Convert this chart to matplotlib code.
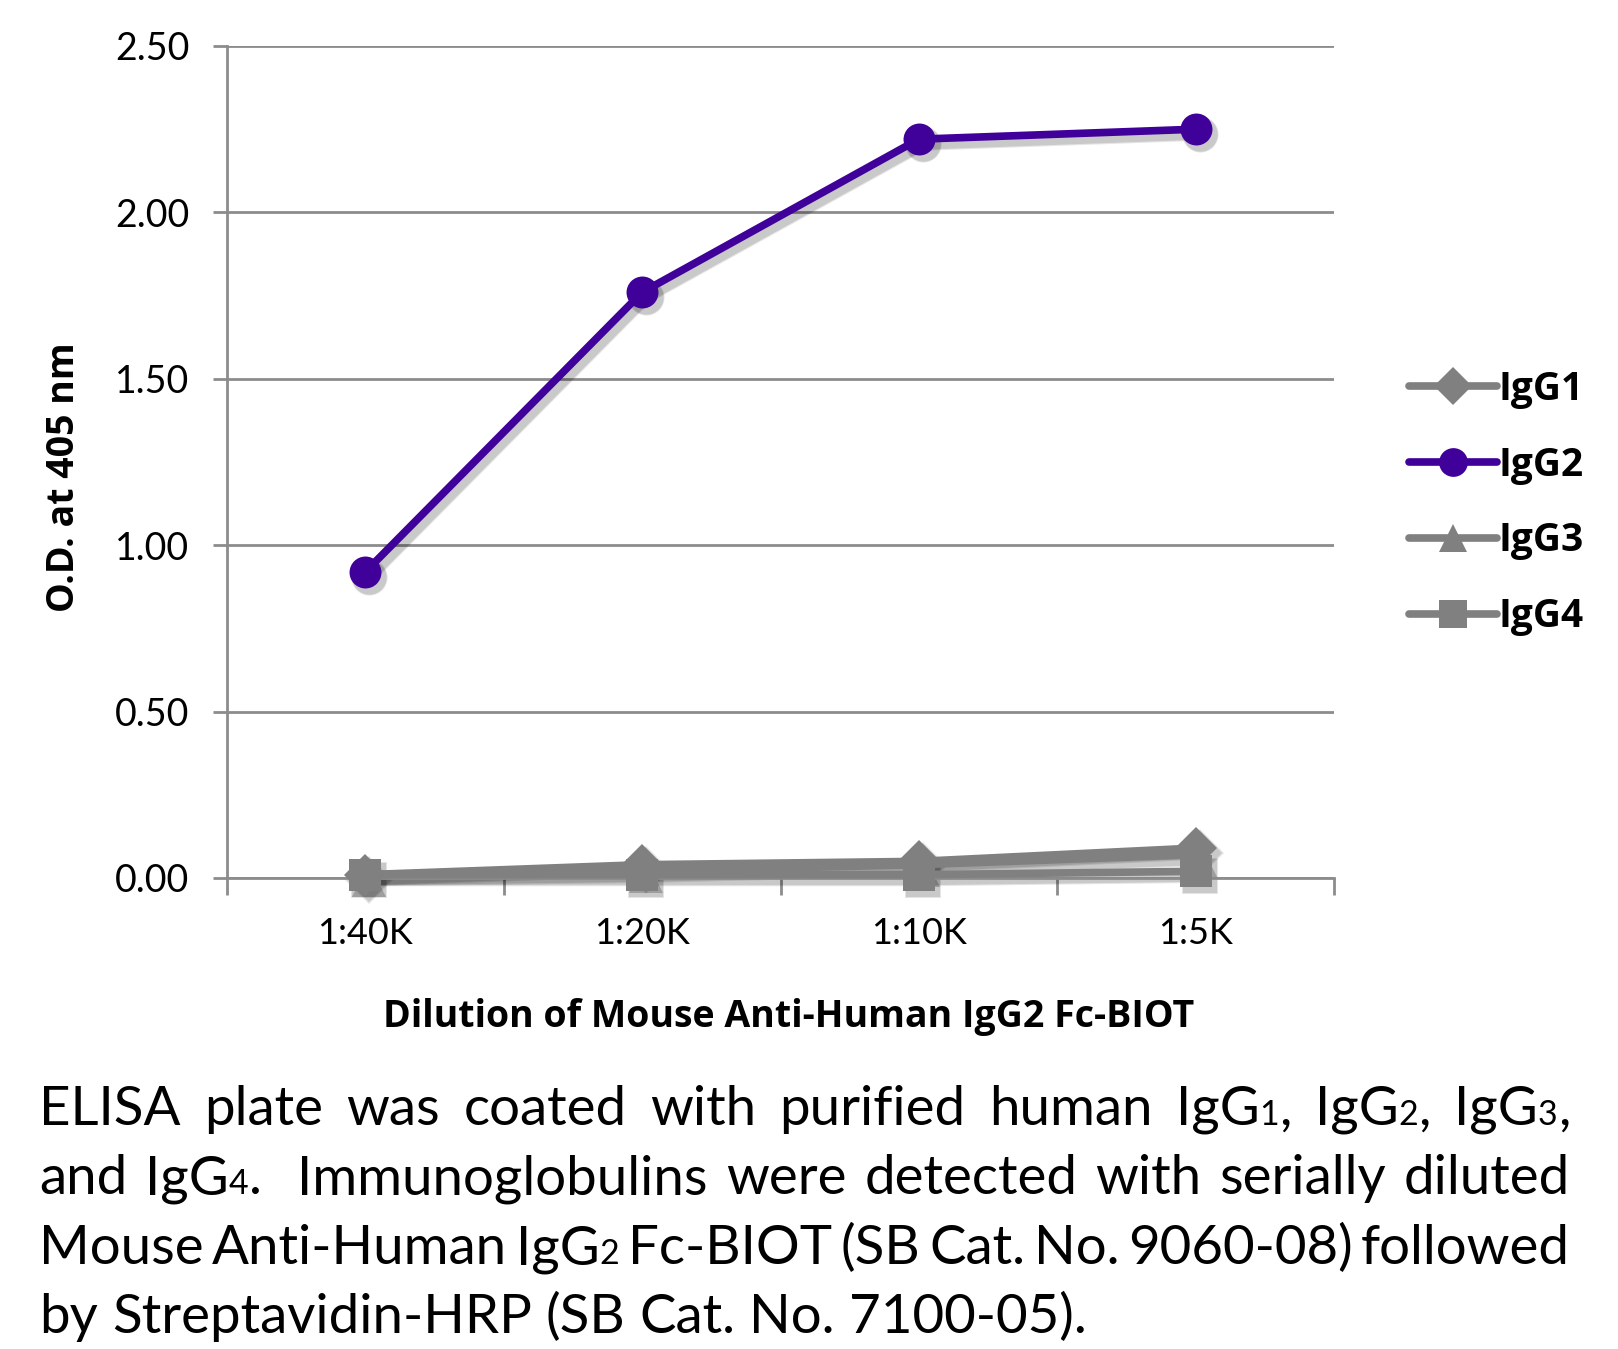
import re
import numpy as np
import matplotlib
matplotlib.use('Agg')
import matplotlib.pyplot as plt
import matplotlib.transforms as mtransforms

# data
dilutions = ['1:40K', '1:20K', '1:10K', '1:5K']
igg1 = [0.01, 0.04, 0.05, 0.09]
igg2 = [0.92, 1.76, 2.22, 2.25]
igg3 = [0.01, 0.02, 0.04, 0.07]
igg4 = [0.01, 0.01, 0.01, 0.02]
y_ticks = [0.0, 0.5, 1.0, 1.5, 2.0, 2.5]

caption_lines = [
    'ELISA plate was coated with purified human IgG{1}, IgG{2}, IgG{3},',
    'and IgG{4}.  Immunoglobulins were detected with serially diluted',
    'Mouse Anti-Human IgG{2} Fc-BIOT (SB Cat. No. 9060-08) followed',
    'by Streptavidin-HRP (SB Cat. No. 7100-05).',
]

W, H = 1618, 1349
fig = plt.figure(figsize=(W / 100, H / 100), dpi=100)
ax = fig.add_axes([227 / W, 1 - 878 / H, (1334 - 227) / W, (878 - 46) / H])

GRAY = '#808080'
PURPLE = '#40009a'
shadow_tr = mtransforms.offset_copy(ax.transData, fig=fig, x=4, y=-5, units='dots')

x = np.arange(len(dilutions))
series = [('IgG1', igg1, GRAY, 'D', 21),
          ('IgG2', igg2, PURPLE, 'o', 23),
          ('IgG3', igg3, GRAY, '^', 22),
          ('IgG4', igg4, GRAY, 's', 23)]
handles = []
for name, vals, col, mk, ms in series:
    # soft drop shadow like the Excel original
    for k, a in [(1.0, 0.10), (0.6, 0.12)]:
        ax.plot(x, vals, color='k', alpha=a, lw=5.5 + 4 * k, marker=mk, ms=ms + 3 * k,
                mew=0, solid_capstyle='round', transform=shadow_tr, zorder=2, clip_on=False)
    z = 4 if name == 'IgG2' else 3
    ln, = ax.plot(x, vals, color=col, lw=5.5, marker=mk, ms=ms, mew=0,
                  solid_capstyle='round', label=name, zorder=z, clip_on=False)
    handles.append(ln)

ax.set_xlim(-0.5, len(dilutions) - 0.5)
ax.set_ylim(0, 2.5)
ax.set_yticks(y_ticks)
ax.set_yticklabels([f'{v:.2f}' for v in y_ticks], fontsize=27, family='Lato')
ax.yaxis.grid(True, color='#8c8c8c', lw=2)
ax.set_axisbelow(True)
ax.tick_params(axis='y', length=10, width=2, color='#8c8c8c', pad=17)

ax.set_xticks(np.arange(len(dilutions) + 1) - 0.5)
ax.set_xticklabels([])
ax.set_xticks(x, minor=True)
ax.set_xticklabels(dilutions, minor=True, fontsize=26, family='Lato')
ax.tick_params(axis='x', which='major', length=12, width=2, color='#8c8c8c', direction='out')
ax.tick_params(axis='x', which='minor', length=0, pad=28)

for s in ['top', 'right']:
    ax.spines[s].set_visible(False)
for s in ['left', 'bottom']:
    ax.spines[s].set_color('#8c8c8c')
    ax.spines[s].set_linewidth(2)
ax.spines['bottom'].set_zorder(2.5)

fig.text(64 / W, 1 - 477 / H, 'O.D. at 405 nm', rotation=90, ha='center', va='center',
         fontsize=27, fontweight='bold', family='Open Sans')
fig.text(789 / W, 1 - 1017 / H, 'Dilution of Mouse Anti-Human IgG2 Fc-BIOT', ha='center', va='center',
         fontsize=27, fontweight='bold', family='Open Sans')

leg = fig.legend(handles=handles, loc='center left', bbox_to_anchor=(1374 / W, 1 - 503 / H),
                 frameon=False, handlelength=2.25, handletextpad=0.05, labelspacing=0.95,
                 prop={'family': 'Open Sans', 'weight': 'bold', 'size': 28})
for h, (_, _, _, mk, ms) in zip(leg.legend_handles, series):
    h.set_markersize(ms * 0.9)
    h.set_solid_capstyle('round')

# caption, justified like the original
left_px, right_px = 39, 1570
baselines = [1125, 1194, 1264, 1333]
renderer = fig.canvas.get_renderer()


def pieces(word):
    out = []
    for part in re.split(r'(\{\d\})', word):
        if not part:
            continue
        if part.startswith('{'):
            out.append((part[1:-1], 0.62))
        else:
            out.append((part, 1.0))
    return out


def width_of(s, size):
    t = fig.text(0, 0, s, fontsize=size, family='Lato')
    bb = t.get_window_extent(renderer)
    t.remove()
    return bb.width


def word_width(w, size):
    return sum(width_of(p, size * f) for p, f in pieces(w)) if w else 0


# shrink font if the tightest line would not fit
cap_size = 41
for _ in range(3):
    sp = 0.6 * (width_of('a a', cap_size) - 2 * width_of('a', cap_size))
    widest = max(sum(word_width(w, cap_size) for w in ln.split(' ')) + sp * (len(ln.split(' ')) - 1)
                 for ln in caption_lines[:-1])
    if widest > right_px - left_px:
        cap_size *= (right_px - left_px) / widest
sp = width_of('a a', cap_size) - 2 * width_of('a', cap_size)

for i, line in enumerate(caption_lines):
    words = line.split(' ')
    wlist = [word_width(w, cap_size) for w in words]
    gaps = len(words) - 1
    total = sum(wlist)
    if i < len(caption_lines) - 1 and gaps > 0:
        gap = (right_px - left_px - total) / gaps
    else:
        gap = sp
    xp = left_px
    for w, ww in zip(words, wlist):
        for p, f in pieces(w):
            fig.text(xp / W, 1 - baselines[i] / H, p, fontsize=cap_size * f, family='Lato',
                     va='baseline', ha='left')
            xp += width_of(p, cap_size * f)
        xp += gap

fig.savefig('out.png', dpi=100)
